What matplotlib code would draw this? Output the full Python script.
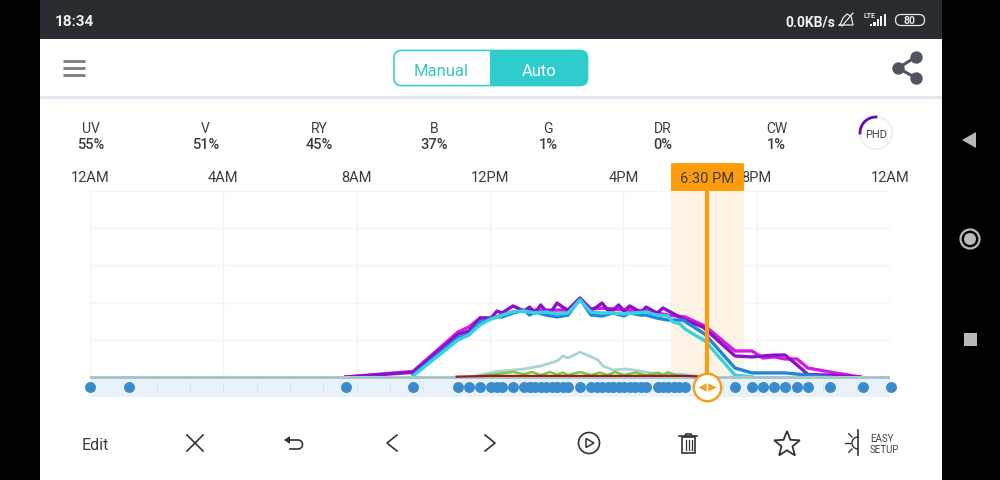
import numpy as np
import matplotlib
matplotlib.use("Agg")
import matplotlib.pyplot as plt
from matplotlib.patches import Rectangle, FancyBboxPatch, Circle, Polygon

plt.rcParams['font.family'] = ['Roboto', 'DejaVu Sans']

channels = ['UV', 'V', 'RY', 'B', 'G', 'DR', 'CW']
channel_pct = ['55%', '51%', '45%', '37%', '1%', '0%', '1%']
hour_ticks = [0, 4, 8, 12, 16, 20, 24]
hour_labels = ['12AM', '4AM', '8AM', '12PM', '4PM', '8PM', '12AM']
selected_hour = 18.5

uv_h = [7.68, 9.69, 11.04, 11.37, 11.70, 12.03, 12.21, 12.36, 12.69, 13.02, 13.19, 13.35, 13.52, 13.68,
        13.85, 14.01, 14.18, 14.34, 14.70, 15.03, 15.20, 15.36, 15.53, 15.69, 15.86, 16.02, 16.19, 16.35,
        16.52, 16.68, 17.01, 17.19, 17.52, 17.85, 18.39, 19.35, 19.86, 20.19, 20.52, 20.85, 21.21, 21.54,
        22.2, 23.1]
uv_v = [0, 2.5, 23, 24.7, 31.7, 31.7, 35.5, 34.4, 38.2, 35.5, 37.6, 34.4, 38.7, 35.5,
        35.5, 39.8, 37.6, 36, 42.5, 36, 37.6, 39.8, 36, 36, 38.7, 35.5, 38.2, 36.6,
        34.4, 37.6, 34.4, 37.1, 33.9, 30.6, 26.9, 11.3, 10.8, 11.3, 11.8, 11.8, 6.5, 1.3,
        1, 0]

v_h = [7.68, 9.69, 11.04, 11.37, 11.70, 12.03, 12.36, 12.69, 13.02, 13.35, 13.68, 14.01, 14.34, 14.70,
       15.03, 15.36, 15.69, 16.02, 16.35, 16.68, 17.01, 17.34, 17.85, 18.45, 19.35, 19.86, 20.19, 20.52,
       20.85, 21.21, 21.54, 22.2, 23.1]
v_v = [0, 3, 24.2, 26.9, 31.7, 31.7, 33.3, 35, 35.5, 36, 36, 36, 36, 42,
       36.6, 37, 36.6, 36, 36, 35.5, 34.4, 33.3, 32.3, 27.4, 14, 14, 10.2, 10.8,
       9.7, 9.7, 4.8, 2.7, 0]

ry_h = [9.69, 11.04, 11.37, 11.70, 12.03, 12.36, 12.69, 13.02, 13.35, 13.68, 14.01, 14.34, 14.70,
        15.03, 15.36, 15.69, 16.02, 16.35, 16.68, 17.01, 17.34, 17.49, 17.70, 17.85, 18.45, 19.35, 19.86]
ry_v = [0.5, 19.9, 22.6, 28, 31.2, 33.3, 35, 35.5, 34.4, 35, 33.9, 34.4, 41.4,
        35, 34.4, 34.4, 33.9, 34.4, 35, 33.3, 32.8, 29.6, 28.5, 25.8, 19.4, 1, 0]

b_h = [9.69, 11.04, 11.37, 11.70, 12.03, 12.21, 12.36, 12.69, 13.02, 13.19, 13.35, 13.68, 14.01, 14.34,
       14.70, 15.03, 15.36, 15.69, 16.02, 16.19, 16.52, 16.68, 17.01, 17.34, 17.79, 18.45, 19.35, 19.86,
       20.85, 21.54, 22.2]
b_v = [1, 21, 23, 29.6, 31.2, 32.3, 32.3, 34.4, 36, 33.3, 35, 33.3, 32.3, 33.3,
       42, 33.3, 32.8, 34.4, 32.8, 34.4, 33.3, 33.3, 31.7, 30.6, 30.6, 23, 4.8, 2.2,
       2.2, 1, 0]

cw_h = [11.4, 12.21, 13.0, 13.52, 14.01, 14.19, 14.34, 14.70, 15.06, 15.24, 15.39, 15.69, 16.11, 16.50,
        17.04, 17.34, 17.70, 18.39]
cw_v = [0, 3, 4.3, 5.9, 8.6, 11.3, 10.2, 13.4, 10.7, 9.1, 5.9, 3.8, 4.3, 3.2,
        1.6, 1.6, 1.6, 0]

g_h = [11.7, 12.21, 12.69, 13.02, 13.26, 13.52, 13.81, 14.01, 14.18, 14.34, 14.70, 15.03, 15.30, 15.53,
       15.75, 16.02, 16.35, 16.68, 17.04, 17.19, 17.34, 17.55, 17.85]
g_v = [0.5, 1.6, 2.7, 1.5, 2.7, 1, 2.7, 1.2, 2.4, 1, 2.7, 1, 2.4, 1,
       2.7, 1, 2.4, 1, 2.4, 1, 2.6, 1, 0.5]

dr_h = [11.0, 12.0, 17.85, 18.39]
dr_v = [0.2, 0.6, 0.6, 0.2]

point_hours = [0, 1.17, 7.68, 9.69, 11.04, 11.37, 11.70, 12.03, 12.21, 12.36, 12.69, 13.02, 13.19, 13.35,
               13.52, 13.68, 13.85, 14.01, 14.18, 14.34, 14.70, 15.03, 15.20, 15.36, 15.53, 15.69, 15.86,
               16.02, 16.19, 16.35, 16.52, 16.68, 17.04, 17.19, 17.34, 17.52, 17.67, 17.85, 19.35, 19.86,
               20.19, 20.52, 20.85, 21.21, 21.54, 22.2, 23.19, 24.03]

TEAL = '#2fcccc'
ORANGE = '#ff9c0a'
DARK = '#3a3d42'

fig = plt.figure(figsize=(10, 4.81), dpi=100, facecolor='white')

# the phone screen, in pixel coordinates
ui = fig.add_axes([0, 0, 1, 1])
ui.set_xlim(0, 1000)
ui.set_ylim(481, 0)
ui.axis('off')

ui.add_patch(Rectangle((0, 0), 40, 481, color='black', lw=0))
ui.add_patch(Rectangle((942, 0), 58, 481, color='black', lw=0))
ui.add_patch(Rectangle((40, 0), 902, 40, color='#292c31', lw=0))
ui.add_patch(Rectangle((40, 97), 902, 2.5, color='#e3e6ee', lw=0))

# status bar
ui.text(55, 22.5, '18:34', color='#f2f2f2', fontsize=11, fontweight='bold', va='center')
ui.text(785, 22.5, '0.0KB/s', color='#f2f2f2', fontsize=10, fontweight='bold', va='center')
ui.plot([840, 843, 847, 851, 853, 846, 839, 840], [26, 19, 15, 17, 26, 26, 26, 26], color='#e8e8e8', lw=0.9)
ui.plot([842, 853], [27, 14], color='#e8e8e8', lw=0.9)
ui.text(863, 16, 'LTE', color='#e8e8e8', fontsize=5, fontweight='bold', va='center')
for i, h in enumerate([2, 4, 7, 10, 12]):
    ui.add_patch(Rectangle((870 + i * 3.4, 27 - h), 2.2, h, color='#f2f2f2', lw=0))
ui.add_patch(FancyBboxPatch((895.5, 15.5), 29, 11, boxstyle='round,pad=0,rounding_size=5.5', fc='none',
                            ec='#e8e8e8', lw=0.9))
ui.text(910, 21.5, '80', color='#e8e8e8', fontsize=7.5, fontweight='bold', ha='center', va='center')

# header
for y in [61.5, 68.5, 75.5]:
    ui.plot([62.5, 85], [y, y], color='#7c7c7c', lw=2, solid_capstyle='butt')
ui.add_patch(FancyBboxPatch((393.5, 51), 194.5, 36, boxstyle='round,pad=0,rounding_size=8', fc=TEAL, ec=TEAL, lw=0.5))
ui.add_patch(FancyBboxPatch((394.7, 52.2), 110, 33.6, boxstyle='round,pad=0,rounding_size=7', fc='white', ec='none'))
ui.add_patch(Rectangle((490, 51), 30, 36, color=TEAL, lw=0))
ui.text(441, 71, 'Manual', color='#39c6c6', fontsize=12, ha='center', va='center')
ui.text(539, 71, 'Auto', color='white', fontsize=12, ha='center', va='center')
ui.plot([916, 898, 916], [58, 69, 79], color='#4f5560', lw=2.2)
ui.scatter([916, 898, 916], [58, 69, 79], s=80, color='#4f5560', lw=0)

# channel percentages
for i, (c, p) in enumerate(zip(channels, channel_pct)):
    x = 91 + i * 114.3
    ui.text(x, 129, c, color=DARK, fontsize=10, ha='center', va='center')
    ui.text(x, 145, p, color=DARK, fontsize=10.5, fontweight='medium', ha='center', va='center')

# PHD gauge
ang = np.linspace(0, 2 * np.pi, 100)
ui.plot(876 + 16 * np.cos(ang), 134 + 16 * np.sin(ang), color='#eef0f1', lw=1.5)
ang = np.linspace(np.pi * 1.0, np.pi * 1.5, 40)
ui.plot(876 + 16 * np.cos(ang), 134 + 16 * np.sin(ang), color='#5a10b0', lw=2)
ui.text(876, 135, 'PHD', color=DARK, fontsize=8, ha='center', va='center')

# bottom toolbar
ICON = '#333333'
ui.text(82, 446, 'Edit', color=DARK, fontsize=11.5, va='center')
ui.plot([187, 203], [436, 452], color=ICON, lw=1.2)
ui.plot([203, 187], [436, 452], color=ICON, lw=1.2)
ang = np.linspace(-np.pi / 2, np.pi / 2, 20)
ui.plot(np.r_[290, 298, 298 + 4.5 * np.cos(ang), 290], np.r_[441, 441, 445.5 + 4.5 * np.sin(ang), 450],
        color=ICON, lw=1.2)
ui.add_patch(Polygon([[284, 441], [290, 437], [290, 445]], color=ICON, lw=0))
ui.plot([397, 387, 397], [436, 444, 452], color=ICON, lw=1.2)
ui.plot([485, 495, 485], [436, 444, 452], color=ICON, lw=1.2)
ui.add_patch(Circle((589, 444), 10.5, fc='none', ec=ICON, lw=1.2))
ui.add_patch(Polygon([[586, 439.5], [594, 444], [586, 448.5]], fc='none', ec=ICON, lw=1.1))
ui.add_patch(Rectangle((681.5, 438), 13, 16, fc='none', ec=ICON, lw=1.2))
ui.plot([679, 697], [437, 437], color=ICON, lw=1.2)
ui.plot([685, 686, 691, 692], [437, 435, 435, 437], color=ICON, lw=1.2)
for x in [685.5, 688.5, 691.5]:
    ui.plot([x, x], [441, 451], color=ICON, lw=0.9)
star_a = np.deg2rad(np.arange(-90, 270, 36))
star_r = np.array([13.5, 5.8] * 5)
ui.add_patch(Polygon(np.c_[787 + star_r * np.cos(star_a), 445.5 + star_r * np.sin(star_a)], fc='none', ec=ICON, lw=1.3))
ui.plot([858, 858], [431, 456], color=ICON, lw=1.2)
ang = np.linspace(np.pi / 2, 3 * np.pi / 2, 20)
ui.plot(858 + 6 * np.cos(ang), 444 + 6 * np.sin(ang), color=ICON, lw=1)
for a in np.deg2rad([135, 180, 225]):
    ui.plot([858 + 8.5 * np.cos(a), 858 + 13 * np.cos(a)], [444 + 8.5 * np.sin(a), 444 + 13 * np.sin(a)], color=ICON, lw=1)
ui.text(870, 439.5, 'EASY', color='#444444', fontsize=7, va='center')
ui.text(870, 450.5, 'SETUP', color='#444444', fontsize=7, va='center')

# nav buttons
ui.add_patch(Polygon([[962, 141], [976, 133], [976, 149]], color='#b9b9b9', lw=0))
ui.add_patch(Circle((970, 240), 9.5, fc='none', ec='#b9b9b9', lw=1.6))
ui.add_patch(Circle((970, 240), 6, color='#b9b9b9', lw=0))
ui.add_patch(Rectangle((964, 334), 13, 13, color='#b9b9b9', lw=0))

# chart: 90..890 px across, 0 at y=378, 100 at y=192, strip below down to y=398
ax = fig.add_axes([0.09, 1 - 398 / 481, 0.8, 206 / 481])
ax.set_facecolor('none')
ax.set_xlim(0, 24)
ax.set_ylim(-10.75, 100)
for s in ax.spines.values():
    s.set_visible(False)
ax.set_axisbelow(True)
ax.grid(True, color='#f3f4f6', lw=1)
ax.set_yticks([0, 20, 40, 60, 80, 100])
ax.tick_params(axis='y', length=0, labelleft=False)
ax.xaxis.tick_top()
ax.set_xticks(hour_ticks)
ax.set_xticklabels(hour_labels, fontsize=10.5, color=DARK)
ax.tick_params(axis='x', length=0, pad=5)

ax.axvspan(17.43, 19.62, ymin=10.75 / 110.75, ymax=1, color='#fdf3e4', lw=0, zorder=1)
ax.axhspan(-10.75, 0, color='#e9f1fb', lw=0, zorder=1)
ax.vlines(np.arange(2, 24), -7.4, -2.6, color='#d8e0ea', lw=0.8, zorder=1.5)

ax.plot(v_h, v_v, color='#d31de3', lw=2.4, zorder=3)
ax.plot(uv_h, uv_v, color='#8c0fcc', lw=2.4, zorder=3.1)
ax.plot(b_h, b_v, color='#1f86d8', lw=2.4, zorder=3.2)
ax.plot(ry_h, ry_v, color='#33d3e2', lw=2.4, zorder=3.3)
ax.plot(cw_h, cw_v, color='#a9d3d9', lw=2, zorder=3.4)
ax.plot(g_h, g_v, color='#7cc93c', lw=1.8, zorder=3.5)
# baseline sits over the series so they taper out of it
ax.axhline(0, color='#a6c6ca', lw=2.2, zorder=3.55)
ax.plot(dr_h, dr_v, color='#9c1b1b', lw=1.6, zorder=3.6)

ax.scatter(point_hours, [-5.4] * len(point_hours), s=62, color='#3a8bcd', lw=0, zorder=4, clip_on=False)

# selected time marker
ax.plot([selected_hour, selected_hour], [0, 100], color=ORANGE, lw=3, solid_capstyle='butt', zorder=5)
ax.add_patch(FancyBboxPatch((17.43, 100), 2.19, 15, boxstyle='round,pad=0,rounding_size=0.2',
                            mutation_aspect=1.5, fc=ORANGE, ec='none', clip_on=False, zorder=5))
ax.add_patch(Rectangle((17.43, 100), 2.19, 6, fc=ORANGE, ec='none', clip_on=False, zorder=5))
ax.text(selected_hour, 107, '6:30 PM', color=DARK, fontsize=10.5, ha='center', va='center', zorder=6)
ax.scatter([selected_hour], [-5.4], s=390, fc='white', ec='#f2a024', lw=1.8, zorder=6, clip_on=False)
ax.scatter([selected_hour - 0.15], [-5.4], s=36, marker='<', color='#f2a024', lw=0, zorder=7)
ax.scatter([selected_hour + 0.15], [-5.4], s=36, marker='>', color='#f2a024', lw=0, zorder=7)

fig.savefig('out.png', dpi=100)
